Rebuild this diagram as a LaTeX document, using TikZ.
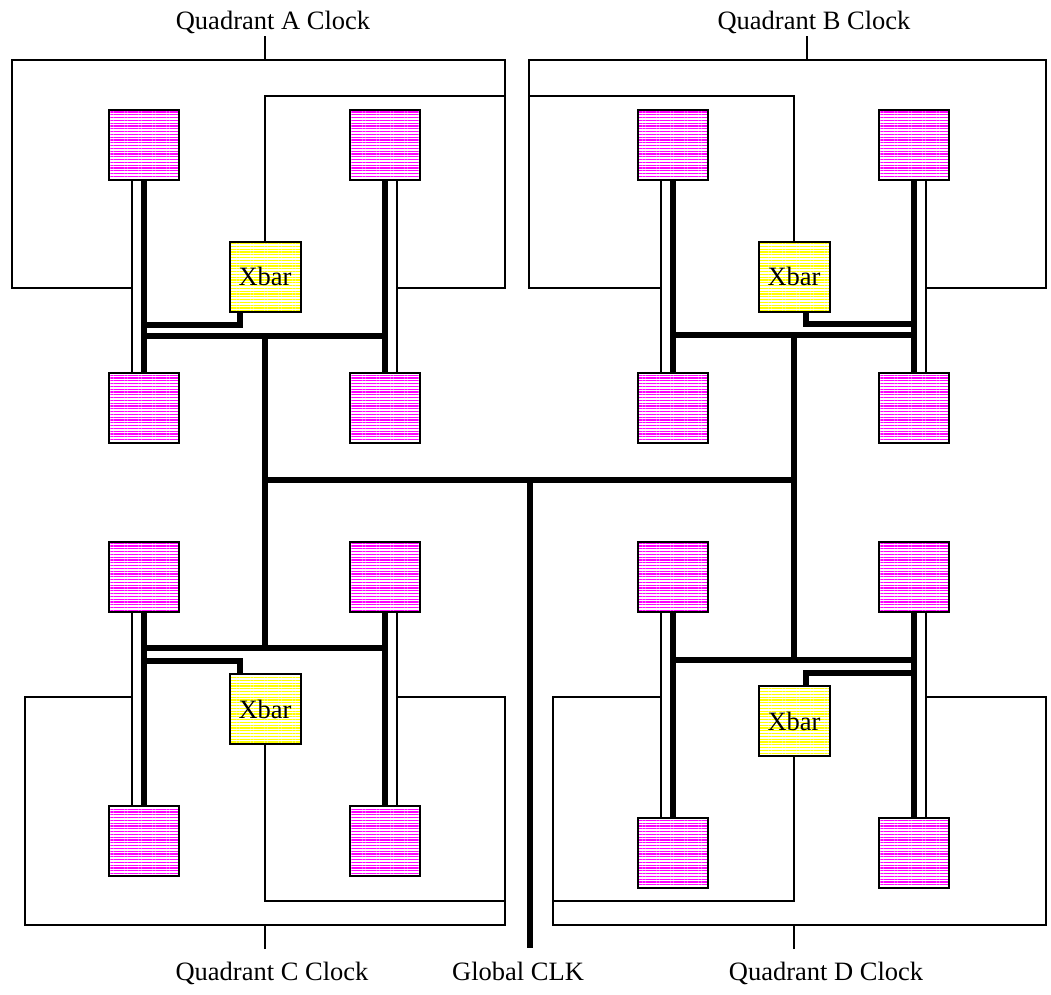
\documentclass[tikz,border=0pt]{standalone}
\usepackage{fontspec}
\setmainfont{Liberation Serif}
\usetikzlibrary{patterns.meta}
\begin{document}
\begin{tikzpicture}[x=1pt,y=-1pt,
  blk/.style={draw=black, line width=2pt, minimum width=70pt, minimum height=70pt, inner sep=0pt,
    pattern={Lines[angle=0,distance=2.8pt,line width=1.3pt]}, pattern color=magenta},
  xbar/.style={draw=black, line width=2pt, minimum width=71pt, minimum height=70pt, inner sep=0pt,
    pattern={Lines[angle=0,distance=2.8pt,line width=1.3pt]}, pattern color=yellow,
    font=\fontsize{26.5}{30}\selectfont},
  lbl/.style={font=\fontsize{26.5}{30}\selectfont, anchor=base, inner sep=0pt},
  wire/.style={line width=1.5pt, line join=miter},
  bus/.style={line width=5.5pt, line join=miter},
  rail/.style={line width=1.5pt}]
\useasboundingbox (0,0) rectangle (1051,994);
% ---- blocks ----
\node[blk] (a1) at (144,144.5) {};
\node[blk] (a2) at (385,144.5) {};
\node[blk] (a3) at (144,408) {};
\node[blk] (a4) at (385,408) {};
\node[xbar] (xa) at (265,276.5) {Xbar};
\node[blk] (b1) at (673,144.5) {};
\node[blk] (b2) at (914,144.5) {};
\node[blk] (b3) at (673,408) {};
\node[blk] (b4) at (914,408) {};
\node[xbar] (xb) at (794,276.5) {Xbar};
\node[blk] (c1) at (144,577) {};
\node[blk] (c2) at (385,577) {};
\node[blk] (c3) at (144,841) {};
\node[blk] (c4) at (385,841) {};
\node[xbar] (xc) at (265,709) {Xbar};
\node[blk] (d1) at (673,577) {};
\node[blk] (d2) at (914,577) {};
\node[blk] (d3) at (673,853) {};
\node[blk] (d4) at (914,853) {};
\node[xbar] (xd) at (794,721) {Xbar};
% ---- labels ----
\node[lbl] (la) at (273,29) {Quadrant A Clock};
\node[lbl] (lb) at (814,29) {Quadrant B Clock};
\node[lbl] (lc) at (272,980) {Quadrant C Clock};
\node[lbl] (ld) at (826,980) {Quadrant D Clock};
\node[lbl] (lg) at (518,980) {Global CLK};
% ---- coordinates ----
\coordinate (sa) at (265,36);
\coordinate (sb) at (807,36);
\coordinate (sc) at (265,949);
\coordinate (sd) at (794,949);
\coordinate (g1) at (265,480);
\coordinate (g2) at (794,480);
\coordinate (gc) at (530,480);
\coordinate (gend) at (530,948);
% ---- thin rails ----
\foreach \u/\v in {a1/a3,c1/c3,b1/b3,d1/d3}{
  \draw[rail] ([xshift=-12pt]\u.south) -- ([xshift=-12pt]\v.north);}
\foreach \u/\v in {a2/a4,c2/c4,b2/b4,d2/d4}{
  \draw[rail] ([xshift=12pt]\u.south) -- ([xshift=12pt]\v.north);}
% ---- quadrant A clock boxes ----
\draw[wire] (132,288) -- (12,288) -- (12,60) -- (505,60) -- (505,288) -- (397,288);
\draw[wire] (xa.north) -- (265,96) -- (505,96);
\draw[wire] (sa) -- (265,60);
% ---- quadrant B ----
\draw[wire] (661,288) -- (529,288) -- (529,60) -- (1046,60) -- (1046,288) -- (926,288);
\draw[wire] (xb.north) -- (794,96) -- (529,96);
\draw[wire] (sb) -- (807,60);
% ---- quadrant C ----
\draw[wire] (132,697) -- (25,697) -- (25,925) -- (505,925) -- (505,697) -- (397,697);
\draw[wire] (xc.south) -- (265,901) -- (505,901);
\draw[wire] (sc) -- (265,925);
% ---- quadrant D ----
\draw[wire] (661,697) -- (553,697) -- (553,925) -- (1046,925) -- (1046,697) -- (926,697);
\draw[wire] (xd.south) -- (794,901) -- (553,901);
\draw[wire] (sd) -- (794,925);
% ---- clock tree ----
\draw[bus] (a1.south) -- (a3.north);
\draw[bus] (a2.south) -- (a4.north);
\draw[bus] (144,336) -- (385,336);
\draw[bus] (265,336) -- (g1);
\draw[bus] (xa.south -| 240,0) -- (240,325) -- (144,325);
\draw[bus] (b1.south) -- (b3.north);
\draw[bus] (b2.south) -- (b4.north);
\draw[bus] (673,335) -- (914,335);
\draw[bus] (794,335) -- (g2);
\draw[bus] (xb.south -| 806,0) -- (806,324) -- (914,324);
\draw[bus] (c1.south) -- (c3.north);
\draw[bus] (c2.south) -- (c4.north);
\draw[bus] (144,648) -- (385,648);
\draw[bus] (g1) -- (265,648);
\draw[bus] (xc.north -| 240,0) -- (240,661) -- (144,661);
\draw[bus] (d1.south) -- (d3.north);
\draw[bus] (d2.south) -- (d4.north);
\draw[bus] (673,660) -- (914,660);
\draw[bus] (g2) -- (794,660);
\draw[bus] (xd.north -| 806,0) -- (806,673) -- (914,673);
\draw[bus] (g1) -- (g2);
\draw[bus] (gc) -- (gend);
\end{tikzpicture}
\end{document}
